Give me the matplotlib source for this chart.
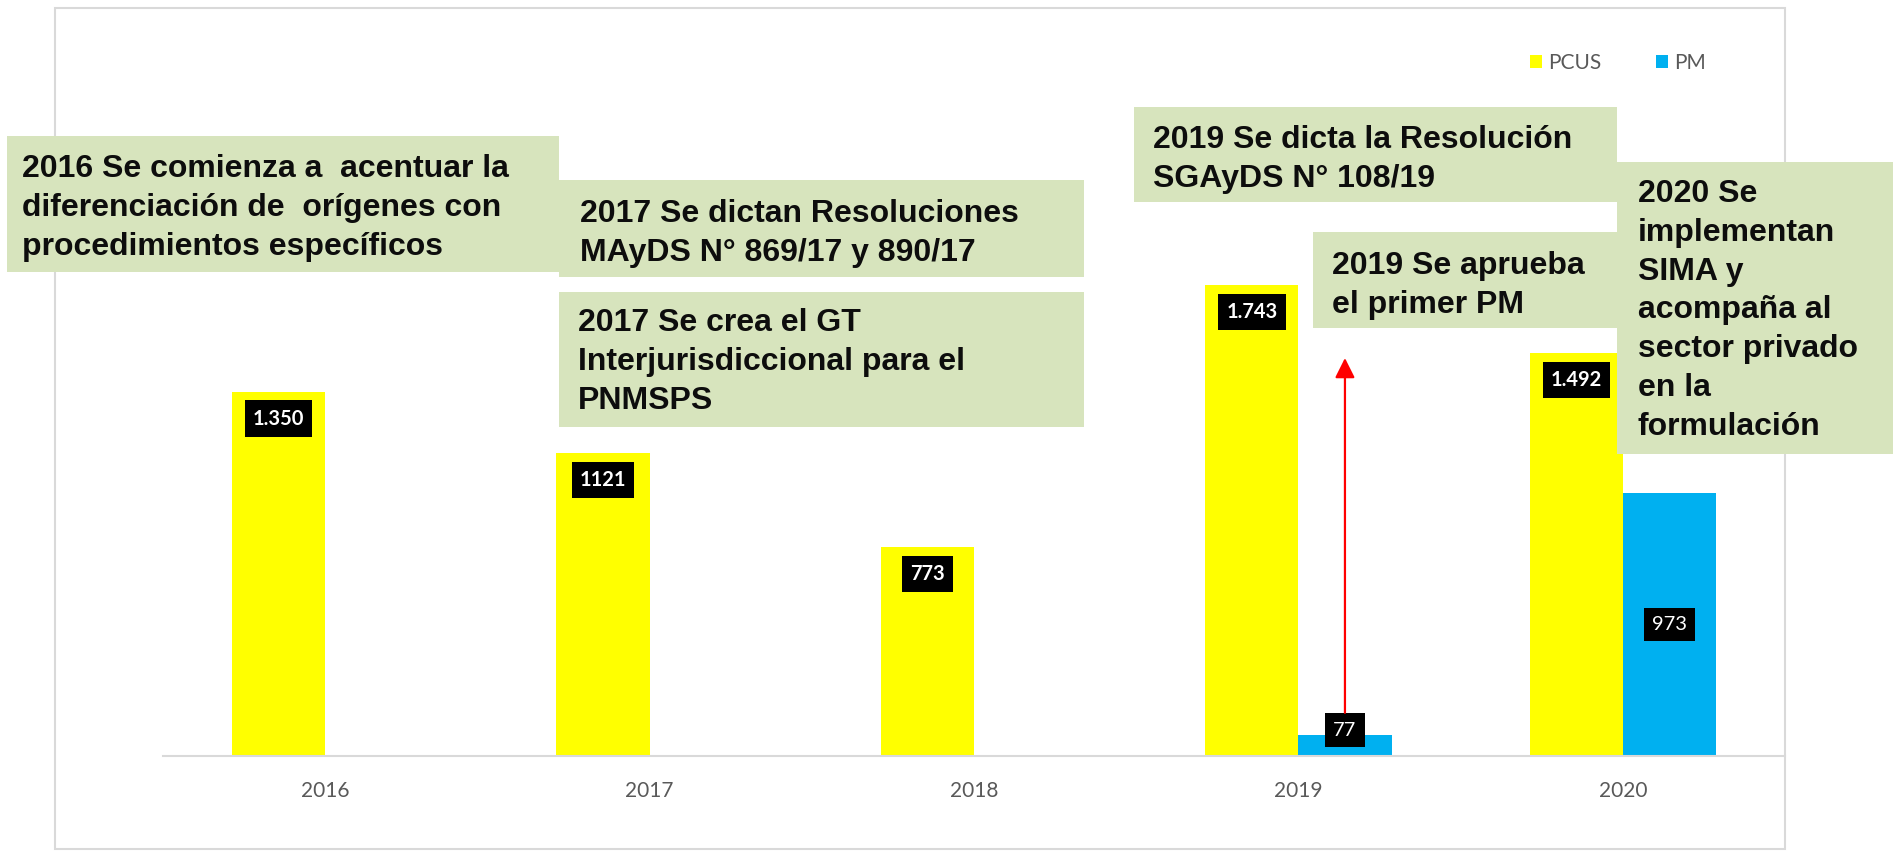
import numpy as np
import matplotlib.pyplot as plt
from matplotlib.patches import Rectangle

# values
years = ['2016', '2017', '2018', '2019', '2020']
pcus = [1350, 1121, 773, 1743, 1492]
pm = [0, 0, 0, 77, 973]
pcus_labels = ['1.350', '1121', '773', '1.743', '1.492']
pm_labels = ['', '', '', '77', '973']

notes = [
    ['2016 Se comienza a  acentuar la', 'diferenciación de  orígenes con',
     'procedimientos específicos'],
    ['2017 Se dictan Resoluciones', 'MAyDS N° 869/17 y 890/17'],
    ['2017 Se crea el GT', 'Interjurisdiccional para el', 'PNMSPS'],
    ['2019 Se dicta la Resolución', 'SGAyDS N° 108/19'],
    ['2019 Se aprueba', 'el primer PM'],
    ['2020 Se', 'implementan', 'SIMA y', 'acompaña al', 'sector privado',
     'en la', 'formulación'],
]
# box (left, top, right, bottom) in pixels, text x, first baseline
note_boxes = [
    ((7, 136, 559, 272), 22, 177),
    ((559, 180, 1084, 277), 580, 222),
    ((559, 292, 1084, 427), 578, 331),
    ((1134, 107, 1617, 202), 1153, 148),
    ((1313, 232, 1617, 328), 1332, 274),
    ((1617, 162, 1893, 454), 1638, 202),
]

W, H = 1893, 852
YELLOW = '#FFFF00'
BLUE = '#00B0F0'
GREEN = '#D7E4BD'
GRID = '#D9D9D9'


def fx(px):
    return px / W


def fy(py):
    return 1 - py / H


fig = plt.figure(figsize=(W / 100, H / 100), dpi=100)
ax = fig.add_axes([fx(163), fy(756), (1785 - 163) / W, (756 - 90) / H])

x = np.arange(len(years))
w = 0.287
b1 = ax.bar(x - w / 2, pcus, w, color=YELLOW, label='PCUS')
b2 = ax.bar(x + w / 2, pm, w, color=BLUE, label='PM')

ax.set_xlim(-0.5, len(years) - 0.5)
ax.set_ylim(0, (756 - 90) / 0.27)
ax.set_yticks([])
ax.set_xticks(x, years)
ax.tick_params(axis='x', length=0, pad=18, labelsize=15, labelcolor='#595959')
for lab in ax.get_xticklabels():
    lab.set_family('Lato')
for s in ['top', 'left', 'right']:
    ax.spines[s].set_visible(False)
ax.spines['bottom'].set_color(GRID)
ax.spines['bottom'].set_linewidth(1.5)

box = dict(boxstyle='square,pad=0.4', fc='black', ec='none')
for rect, lab in zip(b1, pcus_labels):
    ax.annotate(lab, (rect.get_x() + rect.get_width() / 2, rect.get_height()),
                xytext=(0, -27), textcoords='offset pixels', ha='center', va='center',
                color='white', fontweight='bold', family='Lato', fontsize=14.5, bbox=box)
for rect, lab in zip(b2, pm_labels):
    if not lab:
        continue
    h = rect.get_height()
    cx = rect.get_x() + rect.get_width() / 2
    if h > 300:
        xy, off = (cx, h / 2), (0, 0)
    else:
        xy, off = (cx, 0), (0, 26)
    ax.annotate(lab, xy, xytext=off, textcoords='offset pixels', ha='center', va='center',
                color='white', family='Lato', fontsize=14.5, bbox=box)

# red arrow over the first PM
ax.annotate('', xy=(x[3] + w / 2, 1474), xytext=(x[3] + w / 2, 160),
            arrowprops=dict(arrowstyle='-|>,head_width=0.3,head_length=0.6',
                            color='red', lw=1.6, mutation_scale=20,
                            shrinkA=0, shrinkB=0))

leg = ax.legend(loc='center', bbox_to_anchor=(fx(1618), fy(63)),
                bbox_transform=fig.transFigure, ncol=2, frameon=False,
                prop={'family': 'Lato', 'size': 15}, handlelength=0.6,
                handleheight=0.6, handletextpad=0.3, columnspacing=2.6)
for t in leg.get_texts():
    t.set_color('#595959')

# chart border
fig.patches.append(Rectangle((fx(55), fy(849)), (1785 - 55) / W, (849 - 8) / H,
                             transform=fig.transFigure, fill=False, ec=GRID,
                             lw=1.5, zorder=0.5))

for lines, ((l, t, r, b), tx, ty) in zip(notes, note_boxes):
    fig.patches.append(Rectangle((fx(l), fy(b)), (r - l) / W, (b - t) / H,
                                 transform=fig.transFigure, fc=GREEN, ec='none',
                                 zorder=5))
    for i, line in enumerate(lines):
        fig.text(fx(tx), fy(ty + 38.8 * i), line, ha='left', va='baseline',
                 family='Liberation Sans', fontweight='bold', fontsize=23,
                 color='#0D0D0D', zorder=6)

fig.savefig('out.png', dpi=100)
